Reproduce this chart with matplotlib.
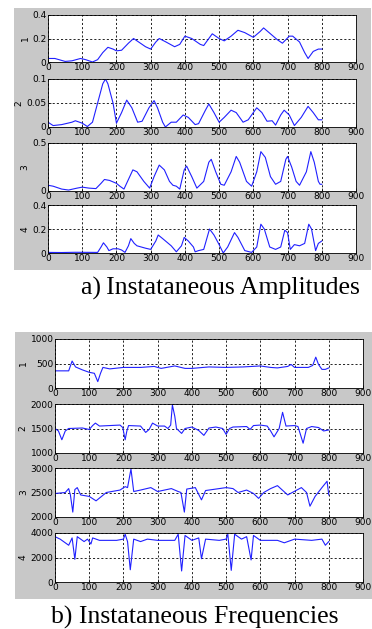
import matplotlib.pyplot as plt
from matplotlib.patches import Rectangle

# a) instantaneous amplitudes, (x, value) pairs
amp1_x = [0, 20, 50, 70, 95, 110, 130, 145, 160, 175, 190, 200, 215, 235, 250, 265, 285, 300, 315, 325,
          345, 370, 385, 400, 420, 445, 455, 470, 480, 500, 515, 535, 555, 575, 600, 620, 630, 650, 670,
          685, 705, 715, 735, 750, 760, 775, 790, 800]
amp1_y = [0.03, 0.03, 0.005, 0.01, 0.03, 0.02, 0.0, 0.02, 0.08, 0.125, 0.11, 0.095, 0.1, 0.16, 0.2, 0.17,
          0.13, 0.11, 0.17, 0.2, 0.17, 0.13, 0.15, 0.22, 0.2, 0.15, 0.14, 0.2, 0.24, 0.2, 0.18, 0.22, 0.27,
          0.25, 0.21, 0.26, 0.29, 0.24, 0.19, 0.16, 0.22, 0.22, 0.17, 0.08, 0.03, 0.09, 0.11, 0.11]

amp2_x = [0, 15, 40, 70, 80, 100, 115, 130, 145, 160, 168, 175, 190, 200, 215, 230, 245, 262, 275, 295,
          310, 320, 335, 343, 360, 375, 395, 410, 430, 440, 460, 470, 485, 500, 515, 535, 550, 570, 585,
          610, 625, 640, 655, 665, 680, 690, 705, 720, 740, 760, 775, 790, 800]
amp2_y = [0.01, 0.003, 0.005, 0.01, 0.013, 0.008, 0.001, 0.01, 0.05, 0.09, 0.1, 0.09, 0.05, 0.008, 0.03,
          0.056, 0.04, 0.01, 0.012, 0.04, 0.055, 0.04, 0.01, 0.0, 0.01, 0.01, 0.025, 0.02, 0.005, 0.007,
          0.035, 0.048, 0.03, 0.01, 0.02, 0.035, 0.03, 0.01, 0.015, 0.04, 0.03, 0.012, 0.013, 0.004, 0.025,
          0.035, 0.025, 0.003, 0.02, 0.043, 0.03, 0.015, 0.015]

amp3_x = [0, 15, 40, 60, 85, 100, 120, 140, 155, 165, 180, 200, 210, 222, 235, 248, 260, 280, 297, 310,
          325, 340, 355, 365, 375, 385, 398, 405, 420, 435, 455, 470, 477, 490, 505, 515, 535, 550, 560,
          580, 595, 610, 622, 635, 650, 665, 680, 695, 700, 712, 725, 735, 755, 768, 778, 790, 795, 800]
amp3_y = [0.06, 0.05, 0.02, 0.01, 0.03, 0.04, 0.03, 0.025, 0.08, 0.12, 0.11, 0.08, 0.05, 0.02, 0.12, 0.22,
          0.2, 0.1, 0.03, 0.15, 0.27, 0.22, 0.1, 0.06, 0.05, 0.02, 0.22, 0.26, 0.15, 0.03, 0.1, 0.3, 0.33,
          0.2, 0.07, 0.06, 0.2, 0.36, 0.3, 0.1, 0.05, 0.2, 0.41, 0.35, 0.15, 0.07, 0.1, 0.33, 0.36, 0.25,
          0.1, 0.06, 0.2, 0.41, 0.3, 0.1, 0.07, 0.07]

amp4_x = [0, 40, 80, 145, 155, 162, 172, 178, 190, 205, 215, 225, 235, 242, 252, 260, 285, 300, 315, 322,
          335, 360, 375, 390, 398, 410, 425, 430, 440, 455, 472, 485, 500, 512, 525, 545, 555, 575, 595,
          610, 622, 632, 648, 665, 680, 692, 700, 708, 720, 735, 750, 762, 770, 782, 790, 800]
amp4_y = [0.005, 0.004, 0.006, 0.005, 0.05, 0.085, 0.05, 0.02, 0.035, 0.035, 0.025, 0.005, 0.06, 0.12,
          0.08, 0.06, 0.04, 0.03, 0.1, 0.15, 0.12, 0.06, 0.01, 0.06, 0.13, 0.1, 0.05, 0.01, 0.02, 0.03,
          0.2, 0.15, 0.07, 0.0, 0.05, 0.17, 0.13, 0.02, 0.005, 0.05, 0.24, 0.2, 0.05, 0.03, 0.05, 0.19,
          0.17, 0.03, 0.07, 0.06, 0.08, 0.24, 0.2, 0.02, 0.08, 0.1]

# b) instantaneous frequencies
frq1_x = [0, 40, 50, 60, 80, 100, 115, 125, 133, 140, 160, 200, 250, 290, 310, 350, 380, 400, 450, 500,
          550, 600, 630, 650, 680, 690, 700, 740, 753, 762, 770, 780, 790, 800]
frq1_y = [350, 350, 550, 430, 370, 320, 300, 130, 300, 420, 390, 420, 420, 440, 400, 450, 400, 400, 430,
          420, 430, 450, 420, 410, 440, 480, 420, 420, 460, 630, 480, 380, 380, 410]

frq2_x = [0, 10, 20, 30, 40, 80, 100, 110, 118, 130, 190, 198, 205, 210, 215, 250, 265, 275, 285, 300,
          320, 330, 338, 343, 350, 355, 370, 380, 400, 420, 435, 450, 470, 490, 500, 510, 520, 560, 570,
          580, 600, 620, 630, 640, 655, 665, 675, 700, 710, 725, 735, 750, 770, 785, 800]
frq2_y = [1500, 1450, 1270, 1450, 1500, 1510, 1480, 1560, 1610, 1550, 1570, 1520, 1270, 1450, 1560, 1550,
          1420, 1480, 1610, 1550, 1550, 1500, 1570, 1980, 1750, 1500, 1400, 1500, 1530, 1460, 1360, 1510,
          1530, 1500, 1380, 1500, 1530, 1540, 1480, 1560, 1570, 1550, 1450, 1330, 1500, 1830, 1550, 1560,
          1540, 1200, 1500, 1540, 1520, 1450, 1470]

frq3_x = [0, 30, 40, 45, 52, 58, 65, 75, 100, 120, 150, 190, 205, 212, 222, 230, 250, 280, 300, 340, 360,
          368, 378, 385, 410, 428, 440, 470, 500, 520, 535, 560, 580, 595, 610, 630, 650, 680, 720, 735,
          745, 760, 780, 795, 800]
frq3_y = [2480, 2500, 2580, 2450, 2100, 2560, 2600, 2450, 2420, 2330, 2500, 2550, 2620, 2600, 2980, 2520,
          2550, 2600, 2520, 2580, 2520, 2500, 2100, 2570, 2600, 2350, 2540, 2570, 2600, 2580, 2500, 2550,
          2480, 2380, 2500, 2580, 2640, 2450, 2600, 2500, 2220, 2420, 2600, 2730, 2450]

frq4_x = [0, 15, 40, 50, 58, 65, 85, 95, 105, 110, 130, 180, 200, 205, 212, 220, 230, 250, 270, 300, 350,
          360, 370, 380, 400, 420, 428, 440, 480, 500, 505, 515, 525, 545, 560, 573, 580, 600, 650, 670,
          700, 750, 780, 790, 800]
frq4_y = [3700, 3500, 3000, 3600, 1850, 3700, 3300, 3500, 3100, 3600, 3400, 3400, 3500, 3900, 3300, 1000,
          3500, 3300, 3500, 3400, 3400, 3900, 900, 3800, 3400, 3600, 1900, 3500, 3400, 3500, 3900, 950,
          3900, 3500, 3700, 1800, 3800, 3400, 3400, 3200, 3500, 3400, 3500, 3000, 3300]

amp_ticks = [[0, 0.2, 0.4], [0, 0.05, 0.1], [0, 0.5], [0, 0.2, 0.4]]
frq_ticks = [[0, 500, 1000], [1000, 1500, 2000], [2000, 2500, 3000], [0, 2000, 4000]]
x_ticks = list(range(0, 1000, 100))

W, H = 372, 629
fig = plt.figure(figsize=(W / 100, H / 100), dpi=100)
fig.patch.set_facecolor('white')

# grey matlab figure backgrounds (pixel boxes), kept behind the axes
for (x0, y0, x1, y1) in [(14, 8, 371, 270), (15, 332, 372, 599)]:
    fig.patches.append(Rectangle((x0 / W, 1 - y1 / H), (x1 - x0) / W, (y1 - y0) / H,
                                 transform=fig.transFigure, facecolor='#c8c8c8',
                                 edgecolor='none', zorder=-5))


def panel(left, right, top, bottom, xs, ys, yt, label):
    ax = fig.add_axes([left / W, 1 - bottom / H, (right - left) / W, (bottom - top) / H])
    ax.set_zorder(2)
    ax.plot(xs, ys, color='#2020ff', lw=0.8)
    ax.set_xlim(0, 900)
    ax.set_ylim(yt[0], yt[-1])
    ax.set_xticks(x_ticks)
    ax.set_yticks(yt)
    ax.set_yticklabels([('%g' % t) for t in yt])
    ax.grid(True, color='black', linestyle=(0, (2.5, 2.5)), lw=0.6)
    ax.tick_params(direction='in', length=2, labelsize=6.5, pad=1, width=0.5)
    ax.set_ylabel(label, fontsize=6.5, labelpad=2)
    for s in ax.spines.values():
        s.set_linewidth(0.6)
    return ax


amp_rows = [(15, 62), (79, 127), (143, 191), (205, 253)]
amp_data = [(amp1_x, amp1_y), (amp2_x, amp2_y), (amp3_x, amp3_y), (amp4_x, amp4_y)]
for i, ((t, b), (xs, ys)) in enumerate(zip(amp_rows, amp_data)):
    panel(48, 356, t, b, xs, ys, amp_ticks[i], str(i + 1))

frq_rows = [(339, 388), (404, 453), (468, 517), (533, 582)]
frq_data = [(frq1_x, frq1_y), (frq2_x, frq2_y), (frq3_x, frq3_y), (frq4_x, frq4_y)]
for i, ((t, b), (xs, ys)) in enumerate(zip(frq_rows, frq_data)):
    panel(55, 363, t, b, xs, ys, frq_ticks[i], str(i + 1))

fig.text(220 / W, 1 - 288 / H, 'a)\u2009Instataneous Amplitudes', ha='center', va='center',
         fontsize=18.5, family='Liberation Serif')
fig.text(195 / W, 1 - 617 / H, 'b) Instataneous Frequencies', ha='center', va='center',
         fontsize=18.5, family='Liberation Serif')

fig.savefig('out.png', dpi=100)
